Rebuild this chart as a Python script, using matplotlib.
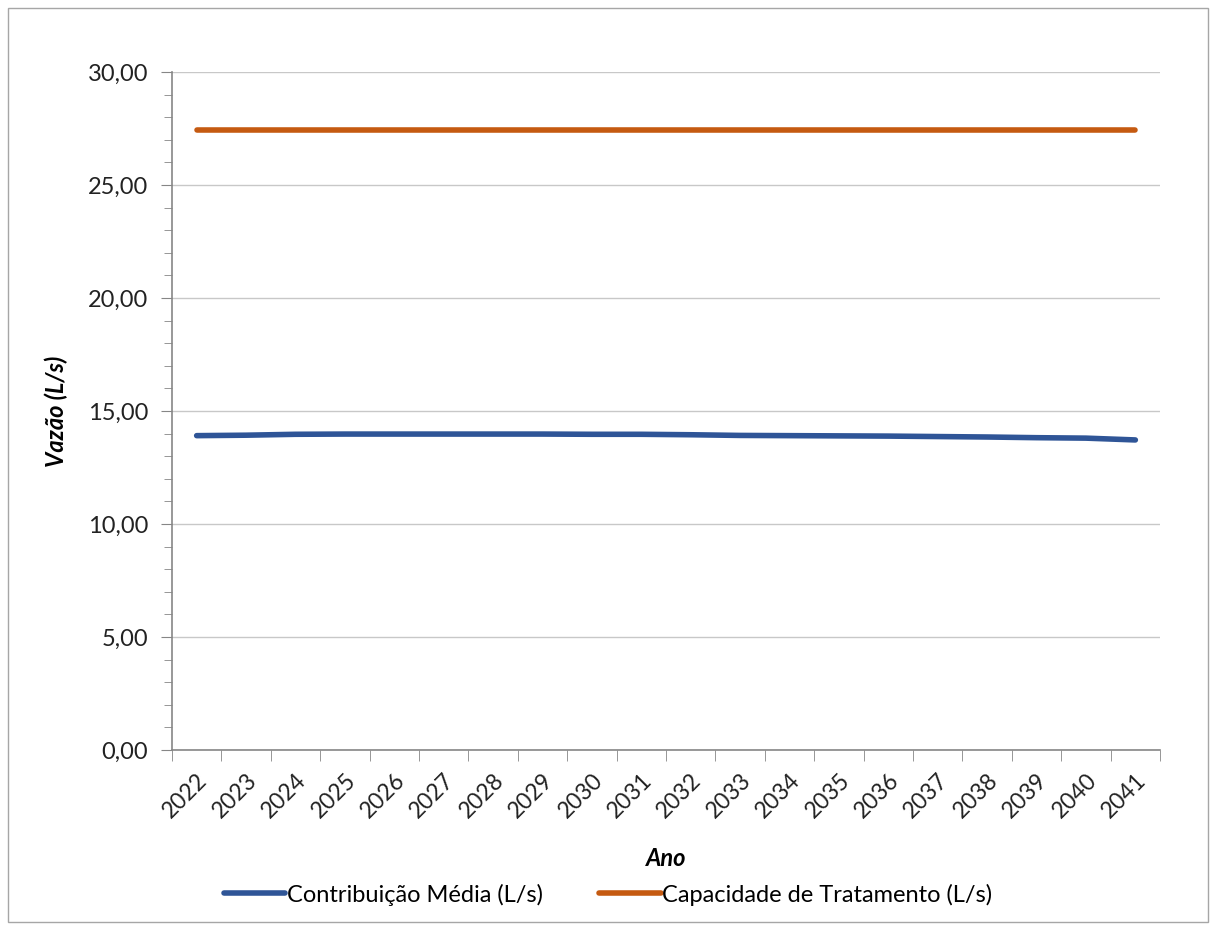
import numpy as np
import matplotlib.pyplot as plt
from matplotlib.ticker import MultipleLocator, FuncFormatter, FixedLocator
from matplotlib.patches import Rectangle

# dados do grafico
anos = [str(a) for a in range(2022, 2042)]
contribuicao = [13.91, 13.93, 13.97, 13.98, 13.98, 13.98, 13.98, 13.98, 13.97, 13.97,
                13.95, 13.92, 13.91, 13.90, 13.89, 13.87, 13.85, 13.82, 13.80, 13.72]
capacidade = [27.43] * 20

plt.rcParams['font.family'] = ['Lato', 'DejaVu Sans']

fig = plt.figure(figsize=(12.16, 9.3), dpi=100)
ax = fig.add_axes([0.1414, 0.1935, 0.954 - 0.1414, 0.9226 - 0.1935])

x = np.arange(len(anos))
ax.plot(x, contribuicao, color="#2F5597", lw=4, solid_capstyle="round",
        label="Contribuição Média (L/s)")
ax.plot(x, capacidade, color="#C55A11", lw=4, solid_capstyle="round",
        label="Capacidade de Tratamento (L/s)")

ax.set_xlim(-0.5, len(anos) - 0.5)
ax.set_ylim(0, 30)

# eixo y
ax.yaxis.set_major_locator(MultipleLocator(5))
ax.yaxis.set_minor_locator(MultipleLocator(1))
ax.yaxis.set_major_formatter(FuncFormatter(lambda v, p: f"{v:.2f}".replace(".", ",")))
ax.tick_params(axis="y", which="major", length=8, color="#868686", labelsize=17,
               labelcolor="#222222", pad=9)
ax.tick_params(axis="y", which="minor", length=6, color="#868686")
ax.grid(axis="y", which="major", color="#C8C8C8", lw=1)

# eixo x: marcas entre as categorias
ax.xaxis.set_major_locator(FixedLocator(x))
ax.set_xticklabels(anos, rotation=45, ha="right", rotation_mode="anchor")
ax.xaxis.set_minor_locator(FixedLocator(np.arange(-0.5, len(anos), 1.0)))
ax.tick_params(axis="x", which="major", length=0, labelsize=16.5, labelcolor="#222222", pad=14)
ax.tick_params(axis="x", which="minor", length=8, color="#868686")

for s in ["top", "right"]:
    ax.spines[s].set_visible(False)
for s in ["left", "bottom"]:
    ax.spines[s].set_color("#868686")
    ax.spines[s].set_linewidth(1.2)

ax.set_xlabel("Ano", fontsize=17, fontweight="bold", fontstyle="italic", labelpad=18)
ax.set_ylabel("Vazão (L/s)", fontsize=17, fontweight="bold", fontstyle="italic", labelpad=14)

fig.legend(loc="center", bbox_to_anchor=(0.5, 0.038), ncol=2, frameon=False,
           fontsize=17, handlelength=2.6, handletextpad=0.05, columnspacing=2.4)

# borda do grafico
fig.patches.append(Rectangle((8 / 1216, 8 / 930), 1 - 16 / 1216, 1 - 16 / 930,
                             transform=fig.transFigure, fill=False, ec="#A6A6A6", lw=1))

fig.savefig("out.png", dpi=100)
